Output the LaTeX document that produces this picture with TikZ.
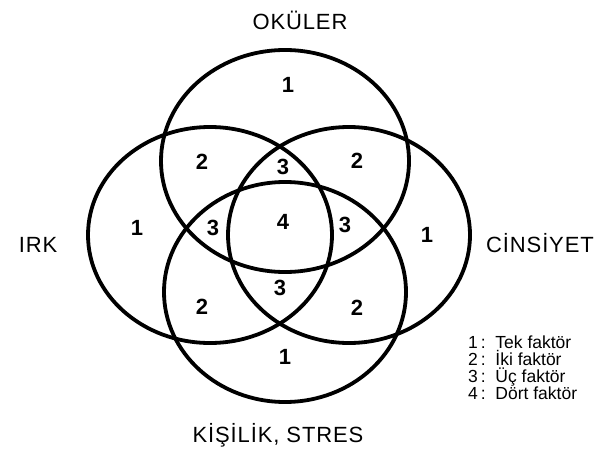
\documentclass[tikz,border=0pt]{standalone}
\usepackage{fontspec}
\setmainfont{Liberation Sans}
\newfontfamily\lblfont[LetterSpace=4]{Liberation Sans}
\begin{document}
\begin{tikzpicture}[x=1pt,y=-1pt,
  ring/.style={draw=black,line width=3.8pt},
  num/.style={font=\fontsize{22}{24}\selectfont\bfseries,inner sep=0pt,anchor=center},
  lbl/.style={font=\lblfont\fontsize{22}{24}\selectfont,inner sep=0pt,anchor=center},
  leg/.style={font=\fontsize{17.5}{19}\selectfont,inner sep=0pt,anchor=base west}]
\path[fill=white] (0,0) rectangle (613,452);
\useasboundingbox (0,0) rectangle (613,452);
% ellipses
\draw[ring] (285,161) ellipse [x radius=124, y radius=111];
\draw[ring] (210,235) ellipse [x radius=122, y radius=108];
\draw[ring] (349,235) ellipse [x radius=121, y radius=108];
\draw[ring] (285,292) ellipse [x radius=121, y radius=110];
% region numbers
\node[num] (n1t) at (288,85) {1};
\node[num] (n2ul) at (202,162) {2};
\node[num] (n2ur) at (357,161) {2};
\node[num] (n3t) at (283,167) {3};
\node[num] (n1l) at (137,228) {1};
\node[num] (n3l) at (213,228) {3};
\node[num] (n4) at (283,222) {4};
\node[num] (n3r) at (345,225) {3};
\node[num] (n1r) at (427,235) {1};
\node[num] (n3b) at (280,288) {3};
\node[num] (n2ll) at (202,307) {2};
\node[num] (n2lr) at (357,308) {2};
\node[num] (n1b) at (285,357) {1};
% set labels
\node[lbl] (oku) at (300,20) {OKÜLER};
\node[lbl] (irk) at (38,245) {IRK};
\node[lbl] (cin) at (540,243) {CİNSİYET};
\node[lbl] (kis) at (278,435) {KİŞİLİK, STRES};
% legend
\node[leg] (l1) at (468,348) {1\,:\ \ Tek faktör};
\node[leg] (l2) at (468,365) {2\,:\ \ İki faktör};
\node[leg] (l3) at (468,382) {3\,:\ \ Üç faktör};
\node[leg] (l4) at (468,399) {4\,:\ \ Dört faktör};
\end{tikzpicture}
\end{document}
